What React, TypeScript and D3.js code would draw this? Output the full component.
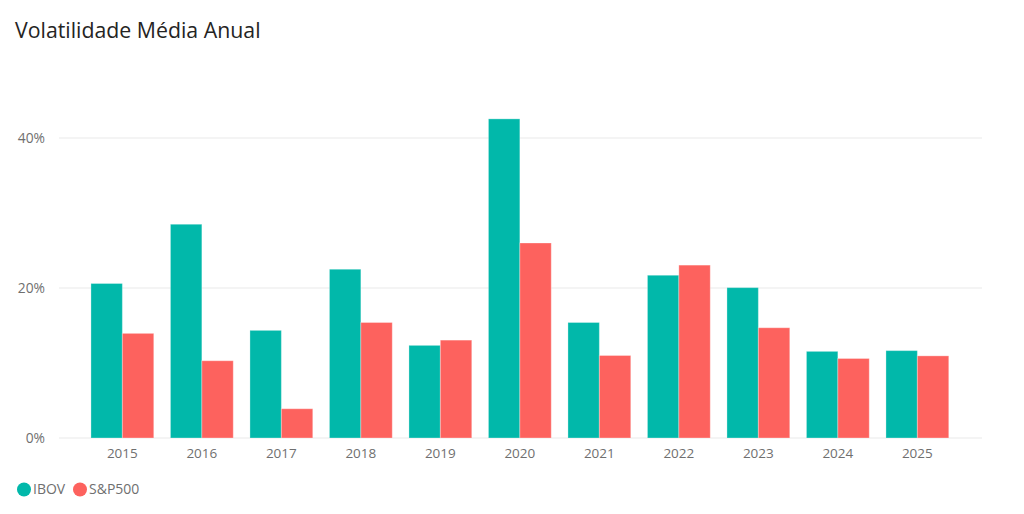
import React from "react";
import * as d3 from "d3";

const years = ["2015", "2016", "2017", "2018", "2019", "2020", "2021", "2022", "2023", "2024", "2025"];
const ibov = [20.6, 28.5, 14.35, 22.5, 12.35, 42.55, 15.4, 21.7, 20.05, 11.55, 11.65];
const sp500 = [13.95, 10.3, 3.9, 15.4, 13.05, 26.0, 11.0, 23.05, 14.7, 10.6, 10.95];
const seriesNames = ["IBOV", "S&P500"];
const seriesColors = ["#01B8AA", "#FD625E"];
const yTicks = [0, 20, 40];

const W = 1024;
const H = 514;
const FONT = "'Open Sans', 'Noto Sans', sans-serif";

export default function App() {
  const x = d3.scaleBand<string>().domain(years).range([82.6, 957.1]).paddingInner(0.21).paddingOuter(0.105);
  const inner = d3.scaleBand<string>().domain(seriesNames).range([0, x.bandwidth()]);
  const y = d3.scaleLinear().domain([0, 40]).range([438, 138]);
  const series = [ibov, sp500];

  return (
    <svg width={W} height={H} style={{ position: "absolute", left: 0, top: 0, background: "#fff" }} fontFamily={FONT}>
      <text x={15} y={38} fontSize={21.3} fill="#252423">Volatilidade Média Anual</text>
      {yTicks.map((t) => (
        <g key={t}>
          <line x1={59} x2={982} y1={y(t)} y2={y(t)} stroke="#E9E9E9" strokeWidth={1.2} />
          <text x={45} y={y(t)} dy="0.35em" textAnchor="end" fontSize={13.8} fill="#6f6f6f">{t}%</text>
        </g>
      ))}
      {years.map((yr, i) => (
        <g key={yr}>
          {series.map((s, j) => (
            <rect
              key={j}
              x={(x(yr) as number) + (inner(seriesNames[j]) as number)}
              y={y(s[i])}
              width={inner.bandwidth()}
              height={y(0) - y(s[i])}
              fill={seriesColors[j]}
              stroke="rgba(255,255,255,0.3)"
              strokeWidth={1}
            />
          ))}
          <text x={(x(yr) as number) + x.bandwidth() / 2} y={458} textAnchor="middle" fontSize={13.5} fill="#6f6f6f">{yr}</text>
        </g>
      ))}
      <g>
        <circle cx={24} cy={489.5} r={7} fill={seriesColors[0]} />
        <text x={33} y={489.5} dy="0.35em" fontSize={14} fill="#6f6f6f">{seriesNames[0]}</text>
        <circle cx={80} cy={489.5} r={7} fill={seriesColors[1]} />
        <text x={89} y={489.5} dy="0.35em" fontSize={14} fill="#6f6f6f">{seriesNames[1]}</text>
      </g>
    </svg>
  );
}
